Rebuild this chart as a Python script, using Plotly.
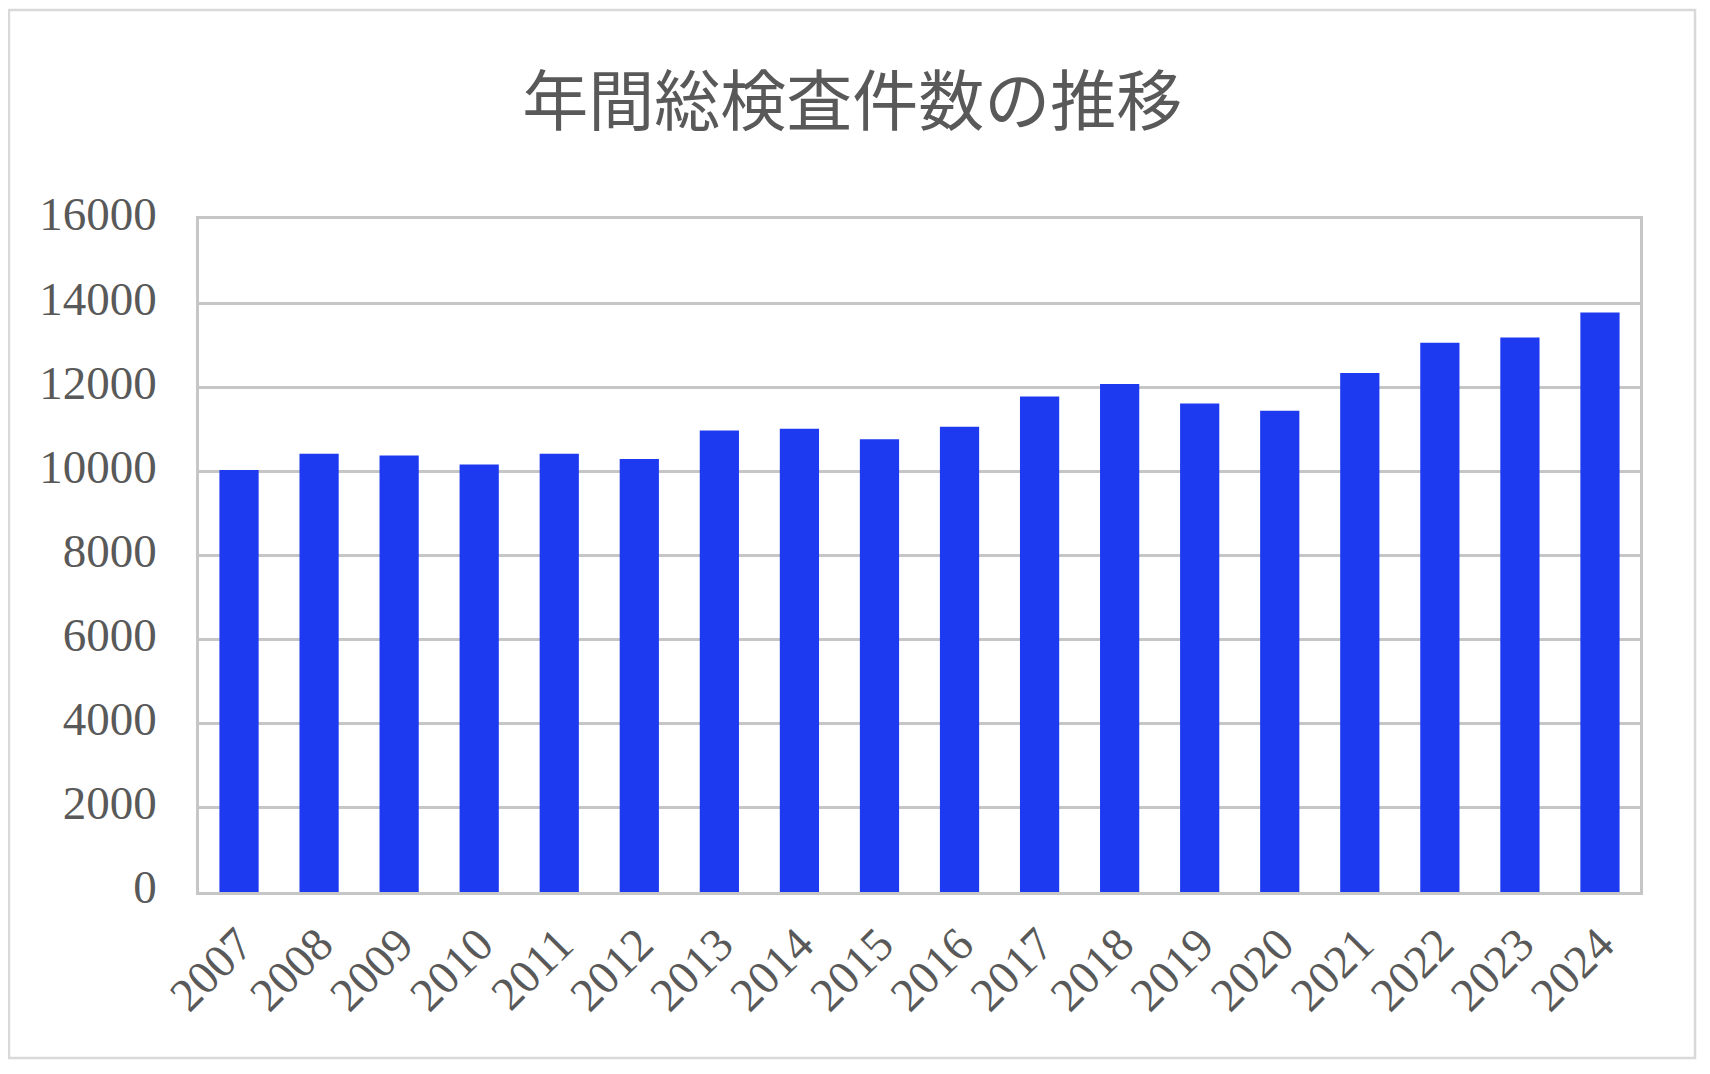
import plotly.graph_objects as go

# data
years = ["2007", "2008", "2009", "2010", "2011", "2012", "2013", "2014", "2015",
         "2016", "2017", "2018", "2019", "2020", "2021", "2022", "2023", "2024"]
counts = [10035, 10417, 10375, 10162, 10417, 10296, 10972, 11014, 10762,
          11063, 11782, 12077, 11612, 11443, 12337, 13055, 13182, 13780]
y_ticks = [0, 2000, 4000, 6000, 8000, 10000, 12000, 14000, 16000]
y_labels = [str(v) for v in y_ticks]

title_text = "年間総検査件数の推移"

grey_text = "#595959"
grid_col = "#c6c6c6"

fig = go.Figure()
fig.add_trace(go.Bar(x=years, y=counts,
                     marker_color="#1e3af0",
                     marker_line_width=0,
                     showlegend=False))

# page body adds 8px, so the figure is a bit smaller than the window
fig.update_layout(
    width=1702, height=1066,
    paper_bgcolor="white", plot_bgcolor="white",
    margin=dict(l=191, r=70, t=211, b=182),
    bargap=0.51,
    title=dict(text=title_text, x=0.496, xref="container", xanchor="center",
               y=0.912, yref="container", yanchor="middle",
               font=dict(family="Noto Sans CJK JP", size=66, color=grey_text)),
    font=dict(family="Liberation Serif", size=47, color=grey_text),
)

fig.update_yaxes(range=[0, 16000], tickvals=y_ticks, ticktext=y_labels,
                 showgrid=True, gridcolor=grid_col, gridwidth=2.5,
                 showline=True, linecolor=grid_col, linewidth=2.5, mirror=True,
                 zeroline=False, ticks="", ticklabelstandoff=30, ticklabelshift=-5,
                 tickfont=dict(family="Liberation Serif", size=47, color=grey_text))
fig.update_xaxes(type="category", tickangle=-45,
                 showline=True, linecolor=grid_col, linewidth=2.5, mirror=True,
                 showgrid=False, ticks="", ticklabelstandoff=3,
                 tickfont=dict(family="Liberation Serif", size=47, color=grey_text))

# outer chart frame
fig.add_shape(type="rect", xref="paper", yref="paper",
              x0=-0.1319, x1=1.0382, y0=-0.2467, y1=1.3105,
              line=dict(color="#d9d9d9", width=2.5), layer="below")

fig.write_html("out.html")
